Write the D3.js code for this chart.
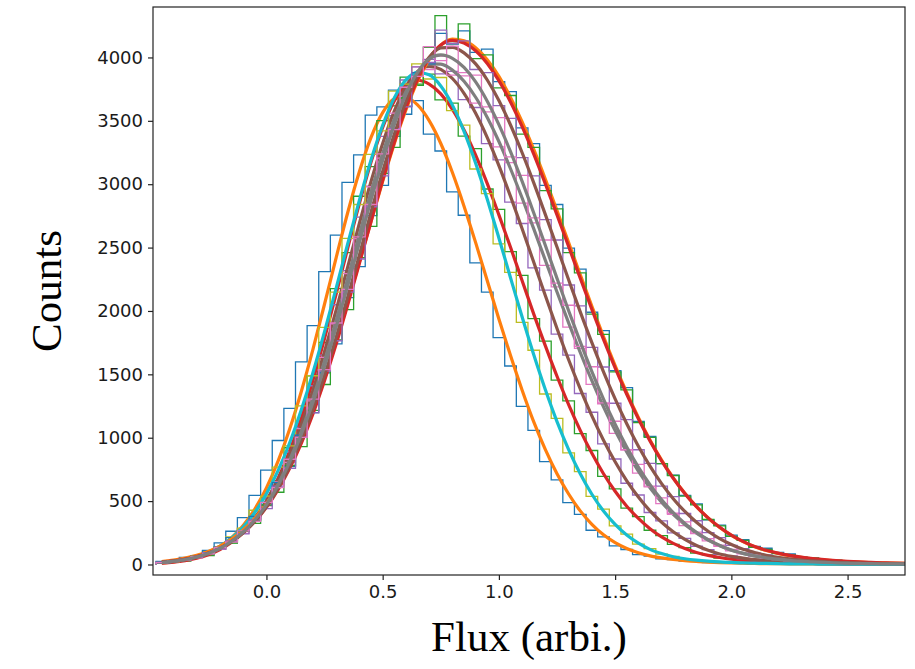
<!DOCTYPE html>
<html>
<head>
<meta charset="utf-8">
<script src="https://cdn.jsdelivr.net/npm/d3@7"></script>
<style>
  body { margin: 0; background: #fff; }
  svg { display: block; }
  .tick text { font-family: "DejaVu Sans", sans-serif; font-size: 18px; fill: #1a1a1a; }
  .tick line { stroke: #222; }
</style>
</head>
<body>
<div id="chart"></div>
<script>
// bin centres of the flux histograms
const fluxBins = [-0.45, -0.40, -0.35, -0.30, -0.25, -0.20, -0.15, -0.10, -0.05, 0.00,
  0.05, 0.10, 0.15, 0.20, 0.25, 0.30, 0.35, 0.40, 0.45, 0.50,
  0.55, 0.60, 0.65, 0.70, 0.75, 0.80, 0.85, 0.90, 0.95, 1.00,
  1.05, 1.10, 1.15, 1.20, 1.25, 1.30, 1.35, 1.40, 1.45, 1.50,
  1.55, 1.60, 1.65, 1.70, 1.75, 1.80, 1.85, 1.90, 1.95, 2.00,
  2.05, 2.10, 2.15, 2.20, 2.25, 2.30, 2.35, 2.40, 2.45, 2.50,
  2.55, 2.60, 2.65, 2.70, 2.75];

const xTicks = [0.0, 0.5, 1.0, 1.5, 2.0, 2.5];
const yTicks = [0, 500, 1000, 1500, 2000, 2500, 3000, 3500, 4000];

// histogram counts
const hist1 = [14, 26, 42, 70, 112, 170, 262, 370, 545, 745, 978, 1232, 1598, 1885, 2310, 2598, 3015, 3232, 3545, 3610,
  3742, 3615, 3660, 3395, 3262, 2940, 2755, 2380, 2148, 1790, 1566, 1248, 1058, 812, 668, 488, 395, 270, 218, 146,
  118, 78, 66, 44, 39, 26, 24, 15, 14, 10, 9, 8, 6, 5, 5, 4, 3, 3, 2, 2, 2, 1, 1, 1, 1];
const hist2 = [9, 21, 27, 54, 71, 124, 168, 266, 349, 522, 661, 921, 1130, 1488, 1752, 2176, 2461, 2905, 3138, 3502,
  3618, 3845, 3779, 3868, 3665, 3640, 3380, 3281, 2962, 2801, 2468, 2280, 1940, 1762, 1455, 1290, 1032, 899, 695, 596,
  445, 377, 270, 228, 158, 133, 90, 76, 51, 45, 30, 28, 19, 18, 13, 12, 8, 7, 6, 5, 4, 3, 2, 2, 2];
const hist3 = [13, 27, 35, 63, 84, 137, 182, 278, 358, 519, 649, 889, 1081, 1410, 1651, 2049, 2318, 2741, 2985, 3378,
  3540, 3822, 3850, 3985, 3870, 3890, 3668, 3605, 3320, 3192, 2858, 2690, 2340, 2165, 1818, 1652, 1349, 1201, 952, 832,
  641, 548, 410, 344, 249, 206, 144, 117, 80, 67, 47, 40, 29, 24, 17, 15, 10, 9, 6, 5, 4, 3, 3, 2, 2];
const hist4 = [17, 22, 40, 53, 90, 119, 188, 246, 365, 462, 651, 806, 1072, 1290, 1634, 1898, 2295, 2570, 2980, 3205,
  3561, 3692, 3925, 3905, 4010, 3860, 3855, 3640, 3570, 3295, 3170, 2850, 2695, 2360, 2190, 1872, 1705, 1421, 1268, 1035,
  905, 720, 618, 480, 404, 306, 255, 186, 152, 108, 91, 64, 54, 38, 32, 23, 19, 14, 12, 9, 7, 6, 5, 4, 3];
const hist5 = [18, 23, 44, 60, 102, 138, 218, 287, 428, 540, 768, 935, 1252, 1489, 1870, 2148, 2572, 2840, 3236, 3420,
  3735, 3790, 3950, 3830, 3842, 3580, 3466, 3120, 2925, 2530, 2305, 1910, 1690, 1345, 1152, 880, 732, 538, 436, 305,
  240, 160, 125, 82, 64, 42, 36, 24, 21, 15, 13, 9, 8, 6, 5, 4, 4, 3, 3, 2, 2, 2, 1, 1, 1];
const hist6 = [25, 30, 55, 68, 110, 139, 212, 262, 380, 468, 645, 772, 1020, 1198, 1512, 1740, 2105, 2350, 2752, 2990,
  3378, 3552, 3880, 3950, 4190, 4105, 4210, 4040, 4065, 3810, 3730, 3445, 3320, 2990, 2840, 2495, 2330, 1990, 1845, 1530,
  1395, 1128, 1010, 795, 705, 545, 478, 352, 310, 232, 196, 142, 128, 96, 84, 60, 52, 38, 34, 25, 21, 16, 13, 10, 9];
const hist7 = [16, 31, 38, 66, 86, 135, 170, 262, 325, 468, 570, 781, 930, 1215, 1420, 1772, 2010, 2420, 2668, 3085,
  3290, 3680, 3790, 4080, 4330, 4110, 4265, 3990, 4020, 3760, 3700, 3395, 3290, 2950, 2805, 2460, 2300, 1975, 1815, 1520,
  1378, 1120, 1002, 795, 702, 540, 470, 355, 305, 222, 190, 135, 118, 86, 76, 55, 49, 36, 33, 23, 21, 15, 13, 10, 8];
const hist8 = [19, 24, 43, 57, 93, 121, 186, 241, 352, 440, 618, 758, 1005, 1196, 1525, 1765, 2148, 2410, 2822, 3065,
  3440, 3610, 3925, 3960, 4215, 4110, 4130, 3905, 3880, 3620, 3520, 3210, 3065, 2720, 2560, 2205, 2040, 1712, 1558, 1272,
  1142, 905, 798, 618, 535, 402, 345, 252, 212, 150, 124, 90, 75, 53, 46, 33, 29, 21, 18, 13, 11, 9, 7, 6, 5];
const hist9 = [14, 29, 36, 63, 84, 134, 177, 265, 340, 490, 606, 830, 1002, 1305, 1538, 1905, 2170, 2585, 2840, 3240,
  3430, 3765, 3850, 4085, 3975, 4090, 3880, 3860, 3610, 3525, 3215, 3070, 2735, 2560, 2220, 2045, 1720, 1560, 1275, 1130,
  905, 790, 612, 525, 396, 336, 244, 204, 144, 118, 84, 71, 50, 44, 31, 27, 19, 17, 12, 10, 8, 7, 5, 4, 4];

// fitted curves, sampled at the same bin centres
const fit1 = [12, 21, 35, 58, 91, 140, 211, 307, 437, 604, 815, 1069, 1365, 1697, 2055, 2421, 2779, 3100, 3369, 3565,
  3672, 3684, 3625, 3501, 3321, 3092, 2827, 2539, 2238, 1937, 1648, 1375, 1125, 906, 716, 556, 423, 317, 234, 172,
  126, 92, 68, 52, 40, 31, 24, 19, 15, 12, 10, 8, 7, 6, 5, 4, 4, 3, 3, 2, 2, 2, 1, 1, 1];
const fit2 = [11, 18, 30, 49, 76, 117, 175, 254, 361, 501, 678, 896, 1154, 1452, 1784, 2135, 2498, 2850, 3174, 3448,
  3656, 3782, 3820, 3790, 3713, 3591, 3427, 3229, 3005, 2758, 2502, 2239, 1975, 1725, 1485, 1261, 1058, 877, 716, 578,
  460, 363, 282, 217, 166, 126, 95, 72, 55, 42, 33, 26, 21, 17, 14, 11, 9, 7, 6, 5, 4, 3, 3, 2, 2];
const fit3 = [15, 24, 38, 59, 88, 130, 189, 267, 370, 502, 666, 867, 1104, 1375, 1680, 2007, 2350, 2692, 3022, 3321,
  3576, 3769, 3889, 3930, 3906, 3834, 3717, 3560, 3368, 3147, 2904, 2648, 2384, 2120, 1862, 1615, 1385, 1172, 980, 810,
  660, 532, 423, 333, 258, 198, 150, 112, 83, 64, 50, 38, 30, 23, 18, 14, 11, 9, 7, 5, 4, 3, 3, 2, 2];
const fit4 = [15, 24, 37, 57, 85, 125, 180, 254, 352, 477, 633, 825, 1049, 1311, 1605, 1925, 2261, 2604, 2939, 3243,
  3516, 3730, 3876, 3949, 3947, 3900, 3812, 3686, 3526, 3337, 3122, 2891, 2648, 2399, 2150, 1906, 1672, 1450, 1244, 1056,
  887, 737, 605, 492, 395, 315, 248, 193, 148, 113, 88, 68, 52, 40, 31, 24, 19, 15, 12, 9, 7, 6, 5, 4, 3];
const fit5 = [16, 26, 41, 64, 97, 144, 209, 296, 411, 558, 740, 960, 1220, 1513, 1837, 2180, 2533, 2875, 3192, 3465,
  3681, 3823, 3883, 3863, 3775, 3624, 3417, 3166, 2881, 2576, 2262, 1952, 1654, 1378, 1127, 906, 715, 554, 422, 316,
  232, 168, 119, 86, 61, 45, 34, 26, 20, 16, 12, 10, 8, 6, 5, 4, 4, 3, 3, 2, 2, 2, 1, 1, 1];
const fit6 = [22, 34, 50, 72, 103, 145, 200, 272, 365, 480, 621, 790, 991, 1220, 1479, 1763, 2068, 2387, 2707, 3022,
  3320, 3585, 3811, 3983, 4097, 4144, 4131, 4077, 3982, 3851, 3685, 3491, 3274, 3039, 2793, 2539, 2286, 2037, 1797, 1569,
  1356, 1160, 982, 823, 683, 561, 456, 367, 292, 230, 180, 139, 110, 88, 70, 56, 45, 36, 29, 23, 19, 15, 12, 10, 8];
const fit7 = [19, 28, 42, 63, 91, 129, 182, 251, 339, 451, 590, 758, 956, 1188, 1451, 1739, 2051, 2376, 2706, 3030,
  3330, 3602, 3825, 3994, 4099, 4135, 4114, 4053, 3953, 3817, 3649, 3454, 3237, 3002, 2758, 2508, 2258, 2013, 1776, 1552,
  1343, 1150, 975, 818, 680, 559, 456, 368, 294, 232, 182, 141, 112, 90, 72, 58, 47, 38, 31, 25, 20, 16, 13, 10, 8];
const fit8 = [17, 26, 40, 60, 88, 127, 179, 249, 340, 455, 599, 775, 982, 1222, 1492, 1792, 2112, 2443, 2780, 3100,
  3395, 3652, 3858, 4002, 4076, 4079, 4036, 3949, 3822, 3660, 3467, 3248, 3011, 2760, 2504, 2246, 1993, 1750, 1520, 1306,
  1110, 933, 776, 638, 519, 418, 333, 262, 204, 157, 120, 95, 72, 56, 44, 35, 28, 22, 17, 14, 11, 9, 7, 6, 5];
const fit9 = [16, 26, 39, 59, 88, 128, 183, 256, 351, 473, 624, 807, 1026, 1278, 1563, 1873, 2202, 2540, 2875, 3188,
  3469, 3706, 3882, 3989, 4020, 3993, 3921, 3807, 3655, 3470, 3257, 3022, 2773, 2516, 2257, 2002, 1756, 1522, 1305, 1106,
  927, 769, 630, 510, 409, 324, 253, 196, 150, 114, 88, 68, 53, 42, 33, 26, 20, 16, 13, 10, 8, 7, 5, 4, 4];

// matplotlib cycle: histogram takes one colour, its fit the next
const tab10 = ["#1f77b4", "#ff7f0e", "#2ca02c", "#d62728", "#9467bd",
  "#8c564b", "#e377c2", "#7f7f7f", "#bcbd22", "#17becf"];
const histograms = [hist1, hist2, hist3, hist4, hist5, hist6, hist7, hist8, hist9];
const fits = [fit1, fit2, fit3, fit4, fit5, fit6, fit7, fit8, fit9];

const width = 915;
const height = 669;
const margin = {top: 7, right: 10, bottom: 94, left: 153};

const x = d3.scaleLinear().domain([-0.488, 2.747]).range([margin.left, width - margin.right]);
const y = d3.scaleLinear().domain([-83, 4398]).range([height - margin.bottom, margin.top]);

const svg = d3.select("#chart").append("svg")
  .attr("width", width)
  .attr("height", height);

svg.append("defs").append("clipPath").attr("id", "plotArea")
  .append("rect")
  .attr("x", margin.left).attr("y", margin.top)
  .attr("width", x.range()[1] - margin.left)
  .attr("height", y.range()[0] - margin.top);

const plot = svg.append("g").attr("clip-path", "url(#plotArea)");

const binWidth = fluxBins[1] - fluxBins[0];

const stepLine = d3.line()
  .x(d => x(d[0]))
  .y(d => y(d[1]))
  .curve(d3.curveStepAfter);

const fitLine = d3.line()
  .x((d, i) => x(fluxBins[i]))
  .y(d => y(d))
  .curve(d3.curveMonotoneX);

histograms.forEach((counts, k) => {
  const pts = [[fluxBins[0] - binWidth / 2, 0]];
  counts.forEach((c, i) => pts.push([fluxBins[i] - binWidth / 2, c]));
  const lastEdge = fluxBins[fluxBins.length - 1] + binWidth / 2;
  pts.push([lastEdge, counts[counts.length - 1]]);
  pts.push([lastEdge, 0]);

  plot.append("path")
    .attr("d", stepLine(pts))
    .attr("fill", "none")
    .attr("stroke", tab10[(2 * k) % 10])
    .attr("stroke-width", 1.3);

  plot.append("path")
    .attr("d", fitLine(fits[k]))
    .attr("fill", "none")
    .attr("stroke", tab10[(2 * k + 1) % 10])
    .attr("stroke-width", 3.2);
});

// frame
svg.append("rect")
  .attr("x", margin.left).attr("y", margin.top)
  .attr("width", x.range()[1] - margin.left)
  .attr("height", y.range()[0] - margin.top)
  .attr("fill", "none")
  .attr("stroke", "#222")
  .attr("stroke-width", 1.2);

svg.append("g")
  .attr("transform", "translate(0," + y.range()[0] + ")")
  .call(d3.axisBottom(x).tickValues(xTicks).tickFormat(d3.format(".1f")).tickSize(5).tickPadding(5))
  .call(g => g.select(".domain").remove());

svg.append("g")
  .attr("transform", "translate(" + margin.left + ",0)")
  .call(d3.axisLeft(y).tickValues(yTicks).tickFormat(d3.format("d")).tickSize(5).tickPadding(5))
  .call(g => g.select(".domain").remove());

svg.selectAll(".tick line").attr("stroke-width", 1.2);

svg.append("text")
  .attr("x", (margin.left + x.range()[1]) / 2)
  .attr("y", 651)
  .attr("text-anchor", "middle")
  .style("font-family", "'Liberation Serif', 'Times New Roman', serif")
  .style("font-size", "43px")
  .text("Flux (arbi.)");

svg.append("text")
  .attr("transform", "translate(61," + (margin.top + y.range()[0]) / 2 + ") rotate(-90)")
  .attr("text-anchor", "middle")
  .style("font-family", "'Liberation Serif', 'Times New Roman', serif")
  .style("font-size", "43px")
  .text("Counts");
</script>
</body>
</html>
